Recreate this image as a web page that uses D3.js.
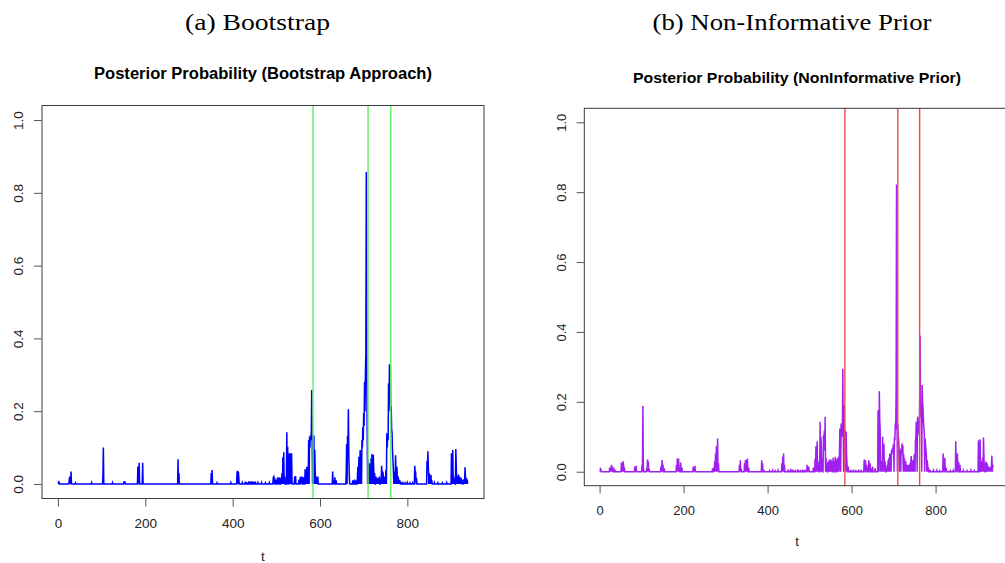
<!DOCTYPE html>
<html>
<head>
<meta charset="utf-8">
<script src="https://cdn.jsdelivr.net/npm/d3@7"></script>
<style>
  body { margin: 0; background: #fff; }
  svg { display: block; }
  text { font-family: "Liberation Sans", Arial, sans-serif; }
</style>
</head>
<body>
<svg id="chart" width="1005" height="563"></svg>
<script>
// ---- data ---------------------------------------------------------------
const nObs = 938;                       // series length, t = 1..nObs
const yTickValues = [0, 0.2, 0.4, 0.6, 0.8, 1.0];
const xTickValues = [0, 200, 400, 600, 800];
const changePoints = [584, 710, 762];   // marked change points

// posterior probability per time step; steps not listed are at 0
const bootstrapSpikes = [
  [2,0.008],[26,0.012],[27,0.02],[28,0.015],[30,0.034],[40,0.003],[77,0.004],
  [103,0.02],[104,0.1],[125,0.004],[151,0.006],[153,0.008],
  [183,0.048],[184,0.03],[186,0.058],[194,0.058],[275,0.068],[277,0.03],
  [351,0.03],[353,0.038],[364,0.003],[396,0.004],
  [410,0.03],[411,0.036],[413,0.034],[414,0.02],
  [422,0.004],[429,0.006],[432,0.005],[437,0.007],[440,0.006],[444,0.007],[448,0.006],
  [452,0.006],[458,0.004],[466,0.004],[475,0.003],[484,0.004],
  [493,0.018],[494,0.02],[496,0.018],[500,0.012],[503,0.018],[505,0.017],[508,0.018],[511,0.015],
  [513,0.03],[515,0.073],[517,0.087],[519,0.02],
  [524,0.142],[526,0.102],[529,0.053],[530,0.084],[532,0.084],[533,0.06],[535,0.084],
  [542,0.02],[544,0.022],[552,0.012],[555,0.02],[557,0.015],[559,0.02],[562,0.018],
  [566,0.041],[568,0.02],[570,0.047],[572,0.03],
  [574,0.121],[576,0.13],[577,0.1],[578,0.134],[579,0.12],[580,0.13],[581,0.258],[582,0.13],
  [584,0.133],[586,0.133],[588,0.094],[589,0.04],[591,0.02],[593,0.01],[595,0.02],
  [629,0.034],[631,0.01],[634,0.018],[637,0.01],
  [660,0.03],[661,0.11],[663,0.132],[664,0.1],[665,0.205],[666,0.08],[667,0.025],
  [675,0.01],[679,0.012],[683,0.01],
  [686,0.03],[687,0.048],[689,0.075],[691,0.06],[692,0.093],[694,0.08],[696,0.121],[697,0.1],
  [698,0.156],[699,0.12],[700,0.194],[701,0.16],[702,0.281],[703,0.2],[704,0.3],[705,0.36],
  [706,0.857],[707,0.3],[708,0.15],
  [710,0.066],[711,0.04],[713,0.057],[715,0.03],[717,0.07],[719,0.082],[720,0.05],[722,0.08],
  [723,0.04],[725,0.03],[728,0.02],[730,0.015],[732,0.017],[734,0.01],[736,0.02],[739,0.015],
  [741,0.05],[742,0.03],[744,0.034],[745,0.02],[747,0.02],[749,0.015],[751,0.039],
  [753,0.139],[754,0.1],[755,0.139],[756,0.12],[757,0.277],[758,0.2],[759,0.329],[760,0.25],
  [761,0.327],[762,0.2],[763,0.213],[764,0.15],[765,0.139],[766,0.09],[767,0.066],[768,0.04],
  [770,0.034],[771,0.02],[773,0.079],[774,0.03],[776,0.047],[777,0.02],[779,0.02],[781,0.012],
  [783,0.01],[786,0.005],[790,0.003],[795,0.003],[800,0.004],[806,0.003],[812,0.003],
  [817,0.05],[818,0.03],[819,0.034],[821,0.016],
  [845,0.063],[846,0.04],[847,0.09],[848,0.05],[850,0.03],[852,0.02],[854,0.025],[856,0.01],
  [862,0.004],[870,0.003],[880,0.003],[890,0.004],
  [901,0.084],[902,0.06],[904,0.093],[906,0.02],[908,0.015],[911,0.096],[912,0.05],[914,0.02],
  [916,0.015],[917,0.026],[919,0.01],[920,0.02],[922,0.012],[923,0.017],[925,0.01],[928,0.013],
  [930,0.01],[932,0.046],[933,0.02],[935,0.017],[937,0.012]
];

const nonInformativeSpikes = [
  [2,0.008],[3,0.006],[24,0.012],[26,0.01],[28,0.02],[30,0.012],[31,0.015],[34,0.01],[37,0.005],
  [52,0.026],[54,0.02],[56,0.03],[57,0.02],[59,0.012],[84,0.015],[86,0.01],[87,0.017],
  [101,0.02],[103,0.188],[104,0.02],[112,0.01],[114,0.035],[116,0.03],[118,0.008],
  [146,0.015],[148,0.02],[149,0.033],[151,0.02],[154,0.01],
  [183,0.02],[185,0.038],[186,0.03],[188,0.038],[190,0.01],[193,0.026],[196,0.012],
  [223,0.015],[225,0.01],[227,0.017],
  [269,0.01],[272,0.012],[274,0.03],[276,0.052],[278,0.073],[280,0.04],[281,0.095],[283,0.024],
  [333,0.02],[335,0.033],[337,0.01],
  [345,0.024],[347,0.033],[348,0.02],[350,0.035],[352,0.038],[355,0.012],
  [386,0.033],[388,0.024],[391,0.005],[405,0.003],[412,0.004],[418,0.003],[425,0.004],
  [434,0.024],[436,0.043],[438,0.052],[440,0.02],
  [449,0.006],[455,0.008],[460,0.006],[466,0.005],[472,0.007],[478,0.005],[484,0.006],[489,0.005],
  [494,0.02],[496,0.01],[498,0.015],
  [509,0.012],[513,0.038],[515,0.073],[516,0.04],[518,0.087],[520,0.03],[522,0.02],
  [525,0.143],[527,0.1],[528,0.06],[530,0.038],[533,0.105],[534,0.08],[535,0.117],[536,0.06],
  [537,0.157],[539,0.04],[541,0.028],
  [545,0.03],[547,0.035],[549,0.025],[551,0.035],[553,0.03],[556,0.04],[558,0.03],[561,0.043],
  [563,0.035],[566,0.038],[568,0.03],[569,0.043],[571,0.05],
  [572,0.124],[573,0.1],[575,0.138],[576,0.11],[577,0.12],[578,0.1],[579,0.295],[580,0.15],
  [582,0.19],[583,0.12],[584,0.117],[585,0.1],[587,0.115],[588,0.05],[589,0.024],[592,0.015],
  [598,0.005],[604,0.006],[610,0.005],[617,0.006],[623,0.005],
  [630,0.035],[631,0.02],[633,0.033],[636,0.02],[638,0.01],[641,0.033],[644,0.024],[646,0.01],
  [650,0.015],[656,0.01],
  [663,0.176],[664,0.12],[666,0.23],[667,0.15],[668,0.12],[670,0.03],[672,0.012],
  [674,0.1],[676,0.05],[677,0.08],[679,0.03],[680,0.024],[683,0.01],
  [685,0.02],[687,0.033],[689,0.04],[691,0.052],[693,0.05],[695,0.062],[696,0.05],[697,0.067],
  [698,0.06],[699,0.072],[700,0.08],[702,0.1],[703,0.09],[704,0.138],[705,0.12],[706,0.23],
  [707,0.822],[708,0.2],[710,0.138],[711,0.1],[712,0.095],[713,0.07],[715,0.062],[716,0.05],
  [718,0.067],[719,0.05],[720,0.081],[721,0.06],[722,0.076],[724,0.05],[726,0.038],[728,0.024],
  [729,0.03],[731,0.02],[733,0.015],[735,0.02],[737,0.018],[739,0.024],[741,0.03],[742,0.045],
  [744,0.03],[745,0.033],[747,0.03],[749,0.045],[750,0.05],
  [752,0.087],[753,0.1],[754,0.143],[755,0.13],[757,0.157],[758,0.14],[759,0.138],[760,0.12],
  [761,0.105],[762,0.2],[763,0.39],[764,0.2],[765,0.157],[766,0.18],[768,0.248],[769,0.2],
  [770,0.181],[771,0.15],[772,0.124],[773,0.11],[775,0.095],[776,0.08],[777,0.062],[778,0.05],
  [780,0.033],[781,0.02],[783,0.012],[787,0.005],[795,0.004],[803,0.004],[810,0.003],
  [818,0.052],[820,0.03],[822,0.04],[825,0.012],[835,0.003],[842,0.004],
  [848,0.087],[850,0.04],[852,0.052],[855,0.028],[858,0.02],
  [866,0.004],[875,0.003],[884,0.004],[892,0.003],
  [902,0.09],[903,0.06],[906,0.093],[908,0.03],[910,0.029],[912,0.04],[914,0.098],[915,0.05],
  [917,0.024],[920,0.029],[922,0.015],[923,0.024],[925,0.015],[927,0.014],[929,0.01],[931,0.014],
  [933,0.02],[934,0.046],[936,0.02],[937,0.014],[938,0.014]
];

// ---- layout -------------------------------------------------------------
const panels = [
  {
    caption: "(a) Bootstrap", captionX: 257.5, captionW: 145,
    title: "Posterior Probability (Bootstrap Approach)", titleX: 263, titleY: 79, titleW: 338, titleSize: 16,
    spikes: bootstrapSpikes, lineColor: "#0000ff", markColor: "#5fee5f",
    left: 42, right: 484, top: 105.5, bottom: 498.5,
    tick: 8, fontSize: 13.5, yLabelOff: 19.5, xLabelY: 561, xLabelX: 263
  },
  {
    caption: "(b) Non-Informative Prior", captionX: 792, captionW: 279,
    title: "Posterior Probability (NonInformative Prior)", titleX: 797, titleY: 82.5, titleW: 328, titleSize: 15.5,
    spikes: nonInformativeSpikes, lineColor: "#a020f0", markColor: "#f24a4a",
    left: 584.3, right: 1009.3, top: 108.3, bottom: 485.7,
    tick: 7.6, fontSize: 13, yLabelOff: 18.3, xLabelY: 546, xLabelX: 797
  }
];

const svg = d3.select("#chart");
const pad = 0.04 * (nObs - 1);

panels.forEach(p => {
  const g = svg.append("g");
  const x = d3.scaleLinear().domain([1 - pad, nObs + pad]).range([p.left, p.right]);
  const y = d3.scaleLinear().domain([-0.04, 1.04]).range([p.bottom, p.top]);

  const lookup = new Map(p.spikes);
  const series = d3.range(1, nObs + 1).map(t => ({ t, v: lookup.has(t) ? lookup.get(t) : 0 }));

  // sub-figure caption
  g.append("text")
    .attr("x", p.captionX).attr("y", 30)
    .attr("text-anchor", "middle")
    .attr("textLength", p.captionW).attr("lengthAdjust", "spacingAndGlyphs")
    .style("font-family", "'Liberation Serif', 'Times New Roman', serif")
    .style("font-size", "23px").attr("fill", "#000")
    .text(p.caption);

  // plot title
  g.append("text")
    .attr("x", p.titleX).attr("y", p.titleY)
    .attr("text-anchor", "middle")
    .attr("textLength", p.titleW).attr("lengthAdjust", "spacingAndGlyphs")
    .style("font-size", p.titleSize + "px").style("font-weight", "bold")
    .attr("fill", "#000")
    .text(p.title);

  // probability trace
  g.append("path")
    .datum(series)
    .attr("fill", "none")
    .attr("stroke", p.lineColor)
    .attr("stroke-width", 1.5)
    .attr("stroke-linejoin", "miter")
    .attr("d", d3.line().x(d => x(d.t)).y(d => y(d.v)));

  // change-point markers
  g.selectAll("line.cp")
    .data(changePoints)
    .join("line")
    .attr("class", "cp")
    .attr("x1", d => x(d)).attr("x2", d => x(d))
    .attr("y1", p.top).attr("y2", p.bottom)
    .attr("stroke", p.markColor)
    .attr("stroke-width", 1.4);

  // frame
  g.append("rect")
    .attr("x", p.left).attr("y", p.top)
    .attr("width", p.right - p.left).attr("height", p.bottom - p.top)
    .attr("fill", "none").attr("stroke", "#3a3a3a").attr("stroke-width", 1);

  // x axis
  const xAxis = g.append("g")
    .attr("transform", `translate(0,${p.bottom})`)
    .call(d3.axisBottom(x).tickValues(xTickValues).tickFormat(d3.format("d"))
      .tickSize(p.tick).tickPadding(12));
  xAxis.select(".domain").remove();
  xAxis.selectAll("line").attr("stroke", "#555");
  xAxis.selectAll("text")
    .attr("fill", "#222")
    .style("font-size", p.fontSize + "px")
    .style("font-family", "'Liberation Sans', Arial, sans-serif");

  // y axis with rotated labels
  const yAxis = g.append("g")
    .attr("transform", `translate(${p.left},0)`)
    .call(d3.axisLeft(y).tickValues(yTickValues).tickFormat(d3.format(".1f"))
      .tickSize(p.tick));
  yAxis.select(".domain").remove();
  yAxis.selectAll("line").attr("stroke", "#555");
  yAxis.selectAll("text")
    .attr("x", null).attr("dy", null)
    .attr("transform", `translate(${-p.yLabelOff},0) rotate(-90)`)
    .attr("text-anchor", "middle")
    .attr("fill", "#222")
    .style("font-size", p.fontSize + "px")
    .style("font-family", "'Liberation Sans', Arial, sans-serif");

  // x axis title
  g.append("text")
    .attr("x", p.xLabelX).attr("y", p.xLabelY)
    .attr("text-anchor", "middle")
    .style("font-size", p.fontSize + "px")
    .attr("fill", "#222")
    .text("t");
});
</script>
</body>
</html>
